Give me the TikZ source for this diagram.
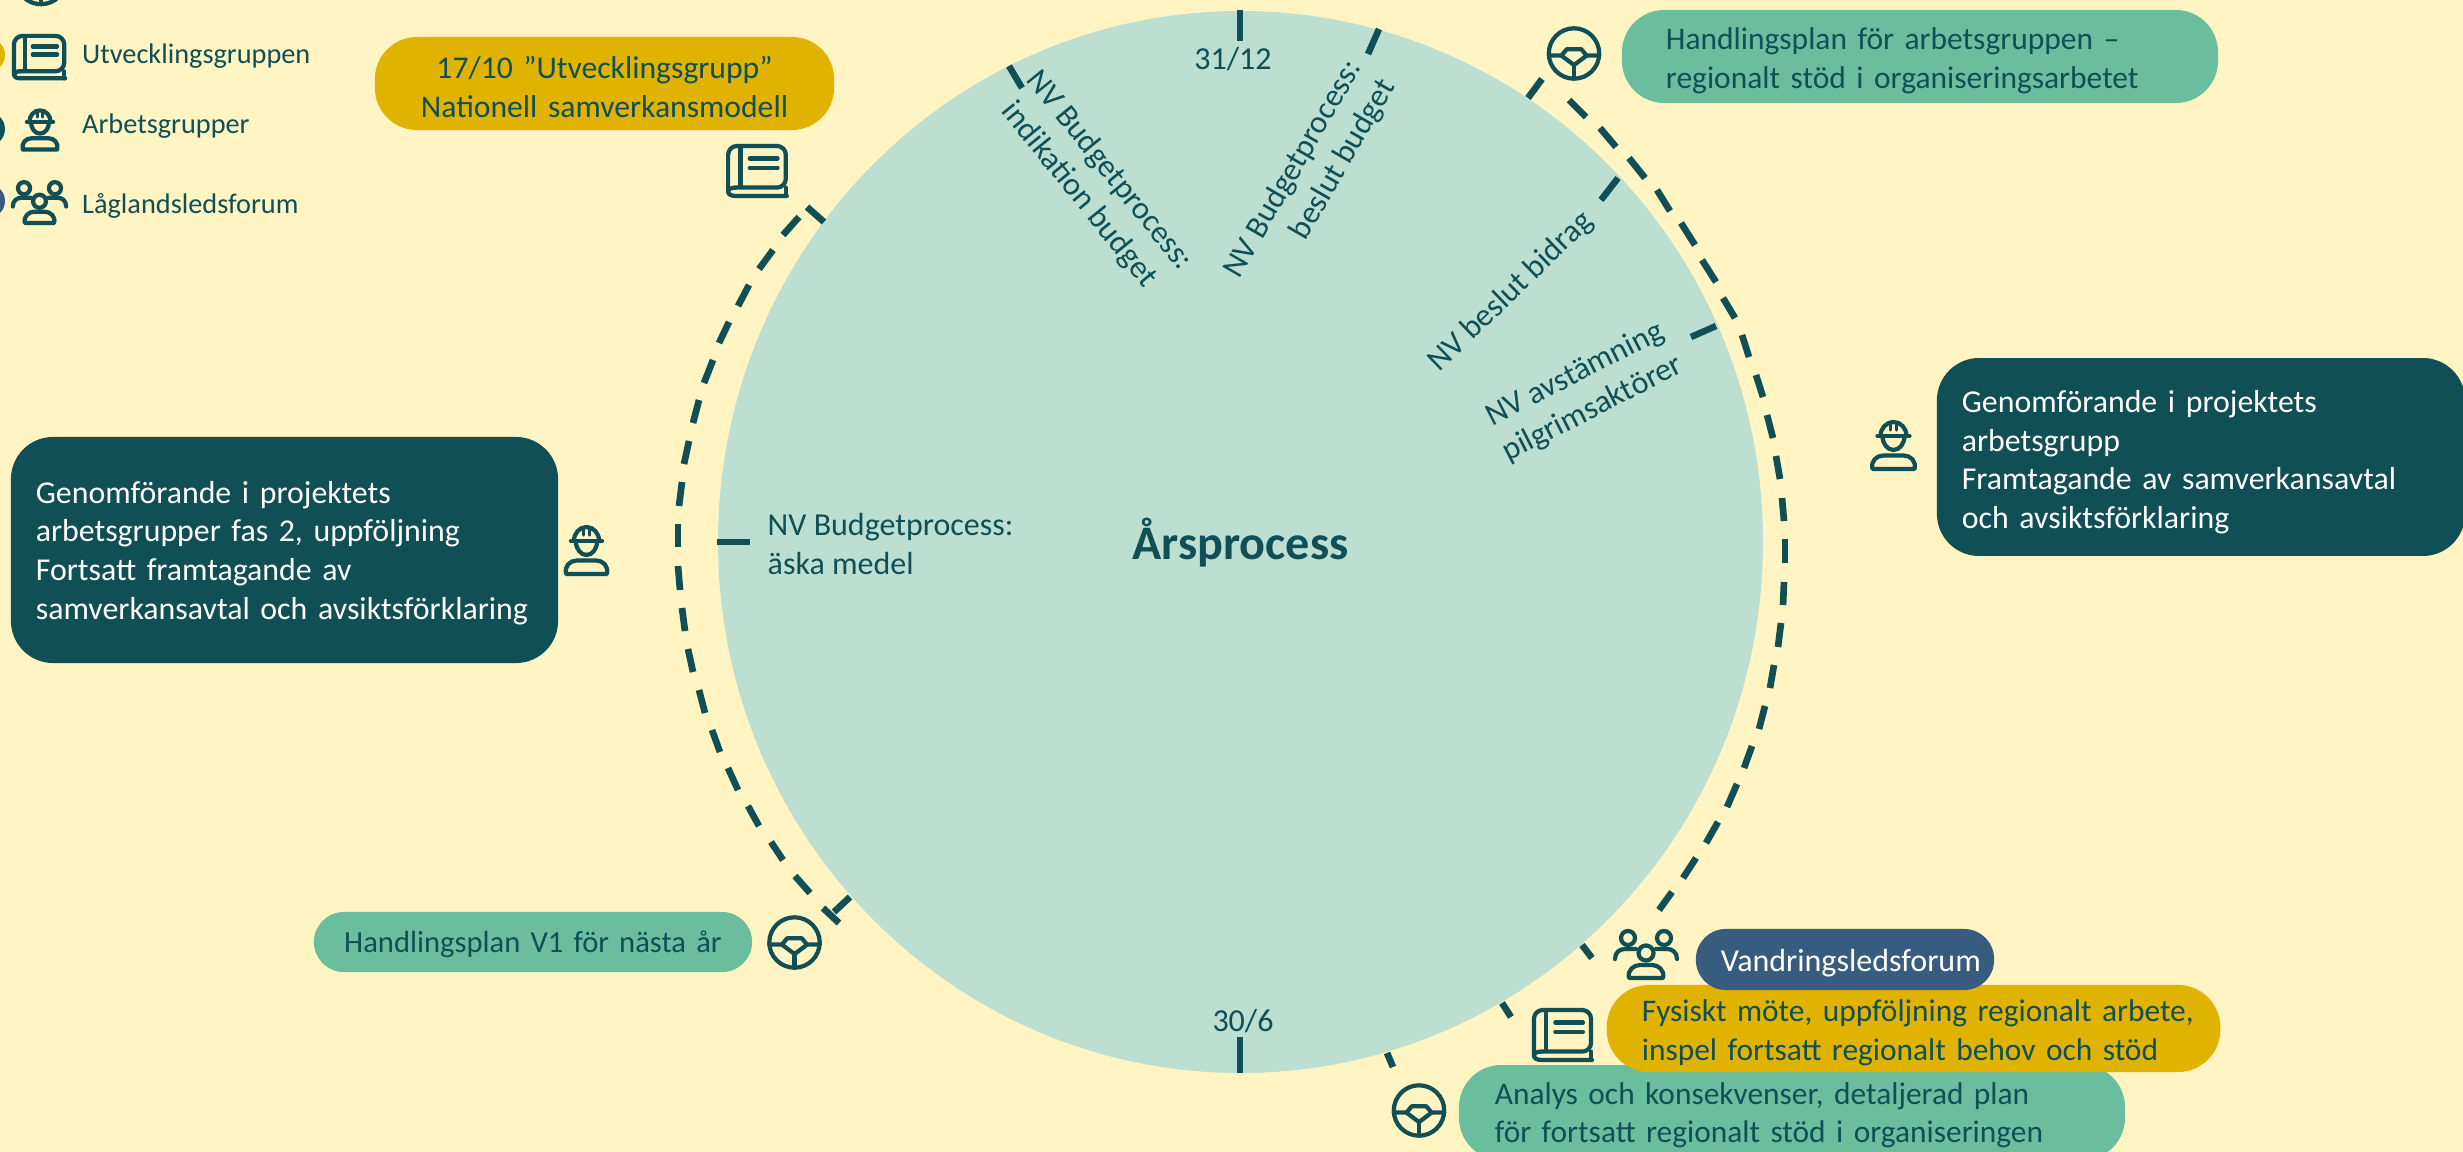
\documentclass[tikz,border=0pt]{standalone}
\usepackage{fontspec}
\setmainfont{Carlito}
\definecolor{bgc}{HTML}{FFF4C2}
\definecolor{circc}{HTML}{BCDFD2}
\definecolor{darkc}{HTML}{0F4F55}
\definecolor{tealc}{HTML}{6ABE9E}
\definecolor{yellowc}{HTML}{E0B300}
\definecolor{bluec}{HTML}{385B80}
\newcommand{\fs}[1]{\fontsize{#1}{11}\selectfont}
\newcommand{\tp}[1]{\rule{0pt}{#1}}
\tikzset{
  x=0.01cm,y=-0.01cm,
  pill/.style={rounded corners=12pt,inner ysep=0pt,text=darkc,align=left},
  labeltext/.style={font=\fs{9.1},text=darkc,align=center,inner sep=0pt},
  legendtext/.style={font=\fontsize{8.05}{10}\selectfont,text=darkc,anchor=west,inner sep=0pt},
  tick/.style={draw=darkc,line width=1.85pt},
  arcdash/.style={draw=darkc,line width=1.9pt},
  iconline/.style={draw=darkc,line width=1.2pt,line cap=round,line join=round},
  bookicon/.pic={
    \draw[iconline,rounded corners=2.5pt] (-22,15) -- (27,15) -- (27,-25) -- (-29,-25) -- (-29,19);
    \draw[iconline] (-22,15) .. controls (-26,15) and (-29,16.5) .. (-29,19) .. controls (-29,21.5) and (-26,23) .. (-22,23) -- (28,23);
    \draw[iconline] (27,15) -- (27,23);
    \draw[iconline,line cap=butt] (-17,-25) -- (-17,15);
    \draw[iconline] (-8,-13) -- (19,-13) (-8,-4) -- (19,-4);
  },
  workericon/.pic={
    \draw[iconline] (-16,-9) -- (16,-9);
    \draw[iconline] (-13,-9) arc[start angle=180,end angle=360,x radius=13,y radius=14];
    \draw[iconline,line width=.9pt] (-3,-22) -- (-3,-15) (3,-22) -- (3,-15);
    \draw[iconline] (-11,-9) arc[start angle=180,end angle=0,x radius=11,y radius=14];
    \draw[iconline] (-21,24) -- (21,24) .. controls (23,16) and (17,10.5) .. (10,10.5) -- (-10,10.5) .. controls (-17,10.5) and (-23,16) .. (-21,24) -- cycle;
  },
  peopleicon/.pic={
    \draw[iconline] (-18,-17) circle[radius=7];
    \draw[iconline] (18,-17) circle[radius=7];
    \draw[iconline] (0,-2) circle[radius=7.5];
    \draw[iconline] (-31,4) .. controls (-31,-3) and (-26,-6) .. (-21,-6) -- (-10,-6);
    \draw[iconline] (31,4) .. controls (31,-3) and (26,-6) .. (21,-6) -- (10,-6);
    \draw[iconline] (-17,23) -- (17,23) .. controls (19,15) and (12,10) .. (6,10) -- (-6,10) .. controls (-12,10) and (-19,15) .. (-17,23) -- cycle;
  },
  wheelicon/.pic={
    \draw[iconline] (0,0) circle[radius=24];
    \draw[iconline] (-24,2) -- (-12,2) -- (-7,-4) -- (7,-4) -- (12,2) -- (24,2);
    \draw[iconline] (-12,2) -- (0,11) -- (12,2);
    \draw[iconline] (0,11) -- (0,24);
  }
}
\begin{document}
\begin{tikzpicture}
\useasboundingbox (0,0) rectangle (2463,1152);
\clip (0,0) rectangle (2463,1152);
\fill[bgc] (0,0) rectangle (2463,1152);

% legend discs cut by the page edge
\fill[yellowc] (-12,55) circle[radius=17];
\fill[darkc] (-12,129) circle[radius=17];
\fill[bluec] (-12,201) circle[radius=17];

% main disc
\fill[circc] (1240.5,542) ellipse[x radius=522.5,y radius=531];

% ticks across the disc rim
\draw[tick] (1240,10) -- (1240,41);
\draw[tick] (1379,29) -- (1368,54);
\draw[tick] (1009,66) -- (1022,88);
\draw[tick] (1618,178) -- (1601,200);
\draw[tick] (1716,326) -- (1691,337);
\draw[tick] (717,542) -- (750,542);
\draw[tick] (1240,1037) -- (1240,1073);

% outer ticks
\foreach \a/\b/\c/\d in {807/207/824/222,1528/98/1542/79,1582/945/1592/958,1502/1003/1511/1017,1387/1053/1393/1067,823/908/839/923,850/897/834/912}
  \draw[arcdash] (\a,\b) -- (\c,\d);

% right dashed arc
\foreach \a/\b/\c/\d in {1569/100/1586/117,1600/128/1616/147,1629/158/1645/178,1657/190/1670/211,1681/223/1695/245,1702/260/1716/282,1723/298/1735/318,1742/335/1749/357,1756/375/1763/397,1767/415/1773/438,1776/456/1780/479,1782/498/1784/521,1785/539/1785/563,1784/582/1783/605,1781/623/1778/647,1774/665/1770/688,1765/706/1759/729,1752/746/1744/768,1737/784/1727/807,1718/822/1706/843,1696/858/1683/878,1672/892/1659/910}
  \draw[arcdash] (\a,\b) -- (\c,\d);

% left dashed arc
\foreach \a/\b/\c/\d in {799/217/783/235,773/250/759/269,749/285/738/306,729/322/719/343,713/360/704/383,699/400/693/423,689/441/684/464,682/482/679/506,678/524/678/547,678/566/680/590,682/608/685/631,688/649/693/672,699/690/705/713,712/730/720/752,728/768/738/790,748/806/759/826,771/842/783/860,795/876/810/893}
  \draw[arcdash] (\a,\b) -- (\c,\d);

% boxes
\node[pill,fill=yellowc,font=\fs{9},align=center,minimum height=26.46pt,text width=130.6pt,inner xsep=0pt] (yellowtop) at (604.5,83.5) {\tp{8.3pt}17/10 ”Utvecklingsgrupp”\\Nationell samverkansmodell};
\node[pill,fill=tealc,font=\fs{8.95},minimum height=26.46pt,text width=144.5pt,inner xsep=12.5pt] (tealtop) at (1920,56.5) {\tp{8.7pt}Handlingsplan för arbetsgruppen –\\regionalt stöd i organiseringsarbetet};
\node[pill,fill=darkc,font=\fs{9.05},text=white,minimum height=56.3pt,text width=136pt,inner xsep=7.1pt] (darkright) at (2201,457) {\tp{9.2pt}Genomförande i projektets\\arbetsgrupp\\Framtagande av samverkansavtal\\och avsiktsförklaring};
\node[pill,fill=darkc,font=\fs{9.05},text=white,minimum height=64.3pt,text width=141.4pt,inner xsep=7.1pt] (darkleft) at (284.5,550) {\tp{7.84pt}Genomförande i projektets\\arbetsgrupper fas 2, uppföljning\\Fortsatt framtagande av\\samverkansavtal och avsiktsförklaring};
\node[pill,fill=tealc,font=\fs{8.7},align=center,minimum height=17.07pt,text width=124.6pt,inner xsep=0pt,rounded corners=8.5pt] (tealleft) at (533,942) {\tp{7.4pt}Handlingsplan V1 för nästa år};
\node[pill,fill=tealc,font=\fs{8.93},minimum height=27pt,text width=169pt,inner xsep=10.2pt] (tealbottom) at (1792,1112.5) {\tp{7.84pt}Analys och konsekvenser, detaljerad plan\\för fortsatt regionalt stöd i organiseringen};
\node[pill,fill=yellowc,font=\fs{8.93},minimum height=24.75pt,text width=154.5pt,inner xsep=10pt] (yellowbottom) at (1913.5,1028.5) {\mbox{\tp{8.7pt}Fysiskt möte, uppföljning regionalt arbete,}\\\mbox{inspel fortsatt regionalt behov och stöd}};
\node[pill,fill=bluec,font=\fs{9.1},text=white,minimum height=17.36pt,text width=70.6pt,inner xsep=7.1pt,rounded corners=8.5pt] (blueforum) at (1845,959.5) {\mbox{\tp{8.3pt}Vandringsledsforum}};

% disc labels
\node[font=\fontsize{13.7}{15}\selectfont\bfseries,text=darkc,inner sep=0pt] (title) at (1240.5,543) {Årsprocess};
\node[labeltext] (dec) at (1233,59) {31/12};
\node[labeltext] (jun) at (1243,1021) {30/6};
\node[labeltext,align=left,anchor=west] (aska) at (767,544) {NV Budgetprocess:\\äska medel};
\node[labeltext,rotate=-51] (indik) at (1094,183) {NV Budgetprocess:\\indikation budget};
\node[labeltext,rotate=60,align=right] (beslut) at (1310,179) {NV Budgetprocess:\\beslut budget};
\node[labeltext,rotate=44] (bidrag) at (1511,292) {NV beslut bidrag};
\node[labeltext,rotate=27] (pilgrim) at (1584,392) {NV avstämning\\pilgrimsaktörer};

% legend
\node[legendtext] (legbook) at (81.5,56) {Utvecklingsgruppen};
\node[legendtext] (legwork) at (81.5,126) {Arbetsgrupper};
\node[legendtext] (legpeople) at (81.5,206) {Låglandsledsforum};

% icons
\pic[xscale=1.05,yscale=1.05] at (41,-21) {wheelicon};
\pic[xscale=.9,yscale=.885] at (40,58) {bookicon};
\pic[xscale=.82,yscale=.83] at (40,129.5) {workericon};
\pic[xscale=.86,yscale=.87] at (39.5,203) {peopleicon};
\pic[xscale=1.03,yscale=1.04] at (758,172) {bookicon};
\pic[xscale=1.05,yscale=1.05] at (1574,53.5) {wheelicon};
\pic at (1893.5,445) {workericon};
\pic[xscale=.97,yscale=1] at (586.5,550) {workericon};
\pic[xscale=1.05,yscale=1.05] at (794.5,942.5) {wheelicon};
\pic at (1646,955) {peopleicon};
\pic[xscale=1.02,yscale=1.04] at (1563.5,1036) {bookicon};
\pic[xscale=1.05,yscale=1.05] at (1419,1110.5) {wheelicon};
\end{tikzpicture}
\end{document}
